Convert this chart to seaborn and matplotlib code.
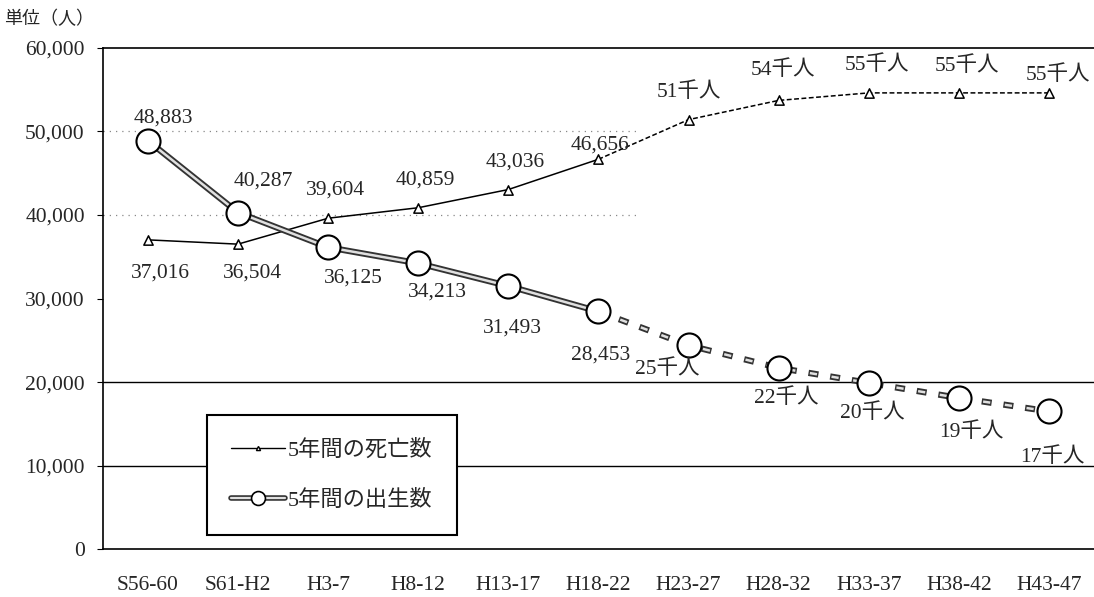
import numpy as np
import pandas as pd
import matplotlib
matplotlib.use("Agg")
import matplotlib.pyplot as plt
from matplotlib.lines import Line2D
from matplotlib.legend_handler import HandlerTuple
from matplotlib.ticker import FuncFormatter, FixedLocator
import seaborn as sns

# 期間
periods = ["S56-60", "S61-H2", "H3-7", "H8-12", "H13-17", "H18-22",
           "H23-27", "H28-32", "H33-37", "H38-42", "H43-47"]
# 5年間の死亡数 (H23-27 以降は推計)
deaths = [37016, 36504, 39604, 40859, 43036, 46656, 51400, 53700, 54600, 54600, 54600]
death_labels = ["37,016", "36,504", "39,604", "40,859", "43,036", "46,656",
                "51千人", "54千人", "55千人", "55千人", "55千人"]
# 5年間の出生数
births = [48883, 40287, 36125, 34213, 31493, 28453, 24400, 21700, 19900, 18100, 16500]
birth_labels = ["48,883", "40,287", "36,125", "34,213", "31,493", "28,453",
                "25千人", "22千人", "20千人", "19千人", "17千人"]
last_actual = 5  # H18-22 まで実績

sns.set_style("white")
plt.rcParams["font.family"] = ["Liberation Serif", "Noto Sans CJK JP"]

df = pd.DataFrame({"x": np.arange(len(periods)), "period": periods,
                   "deaths": deaths, "births": births})
act = df.iloc[:last_actual + 1]
proj = df.iloc[last_actual:]

fig = plt.figure(figsize=(10.94, 5.97), dpi=100)
ax = fig.add_axes([0.094, 0.080, 0.906, 0.840])

# 補助線
for yv in [50000, 40000]:
    ax.axhline(yv, xmax=0.54, color="#888888", lw=0.9, ls=(0, (1, 4)), zorder=0)
for yv in [10000, 20000]:
    ax.axhline(yv, color="black", lw=1.0, zorder=0)


def dash(on, off, lw, offset=0.0):
    # pt 指定の破線パターンを線幅単位に換算
    return (offset / lw, (on / lw, off / lw))


# 死亡数
sns.lineplot(data=act, x="x", y="deaths", ax=ax, color="black", lw=1.1, zorder=2)
sns.lineplot(data=proj, x="x", y="deaths", ax=ax, color="black", lw=1.1,
             ls=dash(3.5, 1.8, 1.1), zorder=2)
sns.scatterplot(data=df, x="x", y="deaths", ax=ax, marker="^", s=45,
                facecolor="white", edgecolor="black", linewidth=1.1, zorder=3)

# 出生数 (二重線)
sns.lineplot(data=act, x="x", y="births", ax=ax, color="#333333", lw=4.5, zorder=2)
sns.lineplot(data=act, x="x", y="births", ax=ax, color="#e0e0e0", lw=1.8, zorder=2)
sns.lineplot(data=proj, x="x", y="births", ax=ax, color="#333333", lw=4.5,
             ls=dash(7.2, 8.6, 4.5), zorder=2)
sns.lineplot(data=proj, x="x", y="births", ax=ax, color="#e0e0e0", lw=1.8,
             ls=dash(5.2, 10.6, 1.8, 14.8), zorder=2)
sns.scatterplot(data=df, x="x", y="births", ax=ax, marker="o", s=300,
                facecolor="white", edgecolor="black", linewidth=1.5, zorder=4)

# データラベル (offset pixels)
death_off = [(12, -33), (14, -29), (7, 28), (7, 28), (7, 27), (2, 14),
             (0, 28), (4, 30), (8, 28), (8, 27), (9, 18)]
birth_off = [(15, 23), (25, 31), (25, -31), (19, -29), (4, -42), (2, -44),
             (-21, -24), (8, -30), (4, -30), (13, -34), (3, -46)]
for i in range(len(periods)):
    ax.annotate(death_labels[i], (i, deaths[i]), xytext=death_off[i],
                textcoords="offset pixels", ha="center", va="center",
                fontsize=15.5, zorder=5)
    ax.annotate(birth_labels[i], (i, births[i]), xytext=birth_off[i],
                textcoords="offset pixels", ha="center", va="center",
                fontsize=15.5, zorder=5)

ax.set_xlim(-0.5, len(periods) - 0.5)
ax.set_ylim(0, 60000)
ax.set_xticks(np.arange(len(periods)))
ax.set_xticklabels(periods, fontsize=15.5)
ax.xaxis.set_minor_locator(FixedLocator(np.arange(-0.5, len(periods), 1)))
ax.tick_params(axis="x", which="major", length=0, pad=19)
ax.tick_params(axis="x", which="minor", length=4, direction="in", color="black")
ax.set_yticks(np.arange(0, 60001, 10000))
ax.yaxis.set_major_formatter(FuncFormatter(lambda v, p: f"{int(v):,}"))
ax.tick_params(axis="y", length=4, direction="out", labelsize=15.5, pad=9, color="black")
ax.tick_params(left=True, bottom=False)
ax.set_xlabel("")
ax.set_ylabel("")

for s in ["left", "top", "bottom"]:
    ax.spines[s].set_color("black")
    ax.spines[s].set_linewidth(1.2)
ax.spines["right"].set_visible(False)

fig.text(0.004, 0.968, "単位（人）", fontsize=13, ha="left", va="center")

# 凡例
h_death = Line2D([], [], color="black", lw=1.0, marker="^", markersize=3,
                 markerfacecolor="white", markeredgecolor="black")
h_birth_out = Line2D([], [], color="#333333", lw=4.0)
h_birth_in = Line2D([], [], color="#e0e0e0", lw=1.6, marker="o", markersize=10,
                    markerfacecolor="white", markeredgecolor="black",
                    markeredgewidth=1.2)
leg = ax.legend([h_death, (h_birth_out, h_birth_in)],
                ["5年間の死亡数", "5年間の出生数"],
                handler_map={tuple: HandlerTuple(ndivide=1, pad=0)},
                loc="lower left", bbox_to_anchor=(0.105, 0.028),
                fontsize=16, frameon=True, fancybox=False, handlelength=2.4,
                handletextpad=0.15, labelspacing=1.3, borderpad=1.1,
                borderaxespad=0)
leg.get_frame().set_edgecolor("black")
leg.get_frame().set_linewidth(1.5)
leg.get_frame().set_alpha(1)
leg.set_zorder(6)

fig.savefig("out.png", dpi=100)
